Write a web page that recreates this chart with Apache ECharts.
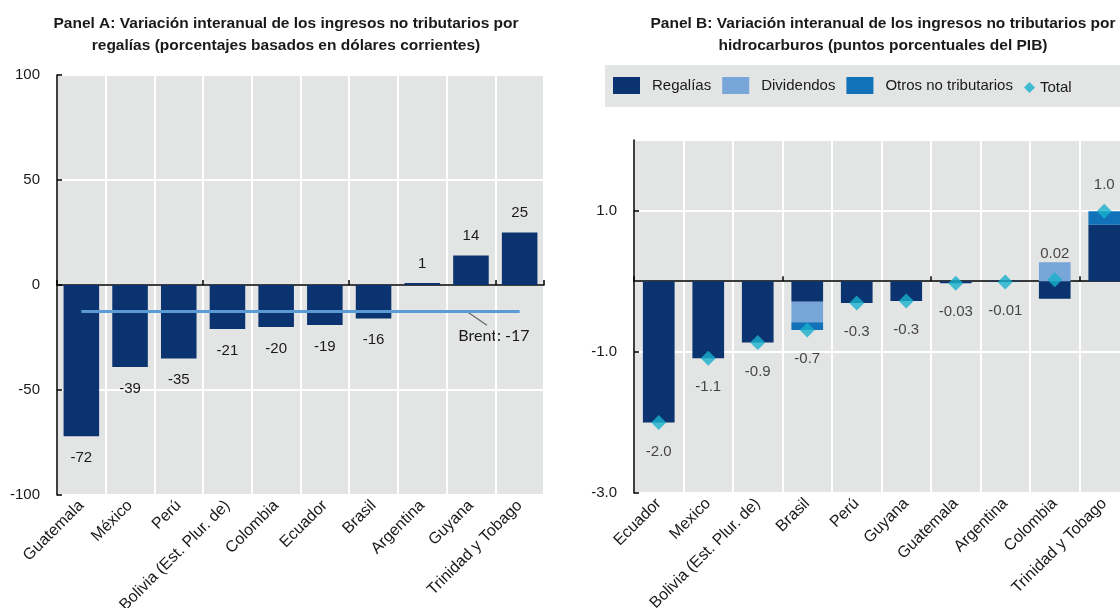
<!DOCTYPE html>
<html>
<head>
<meta charset="utf-8">
<script src="https://cdn.jsdelivr.net/npm/echarts@6/dist/echarts.min.js"></script>
<style>
  html, body { margin: 0; padding: 0; background: #fff; }
  #main { width: 1120px; height: 608px; }
</style>
</head>
<body>
<div id="main"></div>
<script>
// Panel A: variación interanual de regalías (%)
const paisesA = ['Guatemala', 'México', 'Perú', 'Bolivia (Est. Plur. de)', 'Colombia', 'Ecuador', 'Brasil', 'Argentina', 'Guyana', 'Trinidad y Tobago'];
const regaliasA = [-72, -39, -35, -21, -20, -19, -16, 1, 14, 25];
const brentA = [-12.5];          // nivel donde está dibujada la línea
const brentTexto = 'Brent: -17';
const ejeA = [-100, 50, 100];    // min, intervalo, max

// Panel B: variación interanual (p.p. del PIB)
const paisesB = ['Ecuador', 'Mexico', 'Bolivia (Est. Plur. de)', 'Brasil', 'Perú', 'Guyana', 'Guatemala', 'Argentina', 'Colombia', 'Trinidad y Tobago'];
const regaliasB = [-2.0, -1.09, -0.87, -0.29, -0.31, -0.28, -0.03, -0.01, -0.25, 0.80];
const dividendosB = [0, 0, 0, -0.29, 0, 0, 0, 0, 0.27, 0];
const otrosB = [0, 0, 0, -0.11, 0, 0, 0, 0, 0, 0.19];
const totalB = [-2.0, -1.09, -0.87, -0.69, -0.31, -0.28, -0.03, -0.01, 0.02, 0.99];
const ejeB = [-3, 2, 2];         // min, intervalo, max

const FONT = "'Liberation Sans', Arial, sans-serif";
const NAVY = '#0b336f', LIGHT = '#78a6d8', MID = '#1171b9', CYAN = '#18b0cc';
const GRIS = '#e3e4e4', TXT = '#1a1a1a';

function fmtTotal(v) {
  return Math.abs(v) < 0.095 ? v.toFixed(2) : v.toFixed(1);
}

const chart = echarts.init(document.getElementById('main'));

const ejeCatEtiquetas = (grid, data) => ({
  type: 'category', gridIndex: grid, data: data, position: 'bottom',
  axisLine: { show: false, onZero: false },
  axisTick: { show: false },
  axisLabel: { interval: 0, rotate: 45, margin: 8, fontSize: 16, color: TXT, fontFamily: FONT },
  splitLine: { show: true, lineStyle: { color: '#fff', width: 2 } }
});
const ejeCatCero = (grid, data) => ({
  type: 'category', gridIndex: grid, data: data, position: 'bottom',
  axisLine: { show: true, onZero: true, lineStyle: { color: '#000', width: 1.5 } },
  axisTick: { show: true, inside: true, length: 5, lineStyle: { color: '#000', width: 1.5 } },
  axisLabel: { show: false },
  splitLine: { show: false }
});
const ejeValor = (grid, cfg, fmt) => ({
  type: 'value', gridIndex: grid, min: cfg[0], max: cfg[2], interval: cfg[1],
  axisLine: { show: true, lineStyle: { color: '#000', width: 1.5 } },
  axisTick: { show: true, inside: true, length: 5, lineStyle: { color: '#000', width: 1.5 } },
  axisLabel: { fontSize: 15, color: TXT, fontFamily: FONT, margin: 17, formatter: fmt, showMaxLabel: grid === 0 },
  splitLine: { show: true, lineStyle: { color: '#fff', width: 2 } }
});

const option = {
  animation: false,
  textStyle: { fontFamily: FONT },
  title: [
    {
      text: 'Panel A: Variación interanual de los ingresos no tributarios por\nregalías (porcentajes basados en dólares corrientes)',
      left: 281, top: 8, textAlign: 'center',
      textStyle: { fontSize: 15.5, fontWeight: 'bold', lineHeight: 22, color: TXT, fontFamily: FONT }
    },
    {
      text: 'Panel B: Variación interanual de los ingresos no tributarios por\nhidrocarburos (puntos porcentuales del PIB)',
      left: 878, top: 8, textAlign: 'center',
      textStyle: { fontSize: 15.5, fontWeight: 'bold', lineHeight: 22, color: TXT, fontFamily: FONT }
    }
  ],
  graphic: [
    { type: 'rect', z: -1, shape: { x: 605, y: 65, width: 520, height: 42 }, style: { fill: GRIS } }
  ],
  legend: [
    {
      data: ['Regalías', 'Dividendos', 'Otros no tributarios'],
      left: 613, top: 77, padding: 0, icon: 'rect',
      itemWidth: 27, itemHeight: 17, itemGap: 11,
      textStyle: { fontSize: 15, color: TXT, fontFamily: FONT, padding: [0, 0, 0, 7] }
    },
    {
      data: ['Total'],
      left: 1024, top: 80, padding: 0, icon: 'diamond',
      itemWidth: 11, itemHeight: 11,
      textStyle: { fontSize: 15, color: TXT, fontFamily: FONT }
    }
  ],
  grid: [
    { left: 57, top: 75, width: 487, height: 420, show: true, backgroundColor: GRIS, borderWidth: 0, outerBoundsMode: 'none' },
    { left: 634, top: 140, width: 495, height: 353, show: true, backgroundColor: GRIS, borderWidth: 0, outerBoundsMode: 'none' }
  ],
  xAxis: [
    ejeCatEtiquetas(0, paisesA),
    ejeCatCero(0, paisesA),
    ejeCatEtiquetas(1, paisesB),
    ejeCatCero(1, paisesB)
  ],
  yAxis: [
    ejeValor(0, ejeA, v => String(v)),
    ejeValor(1, ejeB, v => v.toFixed(1))
  ],
  series: [
    {
      name: 'A', type: 'bar', xAxisIndex: 0, yAxisIndex: 0, barWidth: '73%',
      itemStyle: { color: NAVY },
      label: { show: true, fontSize: 15, color: TXT, fontFamily: FONT },
      data: regaliasA.map(v => ({ value: v, label: { position: v < 0 ? 'bottom' : 'top', distance: v < 0 ? 14 : 12 } })),
      markLine: {
        silent: true, symbol: 'none', animation: false,
        lineStyle: { color: '#5b9bd5', width: 3, type: 'solid' },
        label: { show: false },
        data: [[{ coord: [0, brentA[0]] }, { coord: [paisesA.length - 1, brentA[0]] }]]
      }
    },
    {
      name: 'Regalías', type: 'bar', stack: 'b', xAxisIndex: 2, yAxisIndex: 1, barWidth: '64%',
      itemStyle: { color: NAVY }, data: regaliasB
    },
    {
      name: 'Dividendos', type: 'bar', stack: 'b', xAxisIndex: 2, yAxisIndex: 1,
      itemStyle: { color: LIGHT }, data: dividendosB
    },
    {
      name: 'Otros no tributarios', type: 'bar', stack: 'b', xAxisIndex: 2, yAxisIndex: 1,
      itemStyle: { color: MID }, data: otrosB
    },
    {
      name: 'Total', type: 'scatter', xAxisIndex: 2, yAxisIndex: 1, z: 5,
      symbol: 'diamond', symbolSize: 15, itemStyle: { color: CYAN },
      label: { show: true, fontSize: 15, color: TXT, fontFamily: FONT, formatter: p => fmtTotal(p.value) },
      data: totalB.map(v => ({ value: v, label: { position: v < 0 ? 'bottom' : 'top', distance: v < 0 ? 14 : 11 } }))
    }
  ]
};

chart.setOption(option);

// etiqueta del Brent con su línea guía
const p = chart.convertToPixel({ xAxisIndex: 0, yAxisIndex: 0 }, [paisesA.length - 2, brentA[0]]);
chart.setOption({
  graphic: [
    { type: 'rect', z: -1, shape: { x: 605, y: 65, width: 520, height: 42 }, style: { fill: GRIS } },
    { type: 'line', shape: { x1: p[0] - 3, y1: p[1] + 1, x2: p[0] + 16, y2: p[1] + 14 }, style: { stroke: '#666', lineWidth: 1.2 } },
    { type: 'text', x: p[0] + 23, y: p[1] + 25, style: { text: brentTexto, fontSize: 16, fontFamily: 'Lato, sans-serif', fill: TXT, align: 'center', verticalAlign: 'middle' } }
  ]
});
</script>
</body>
</html>
